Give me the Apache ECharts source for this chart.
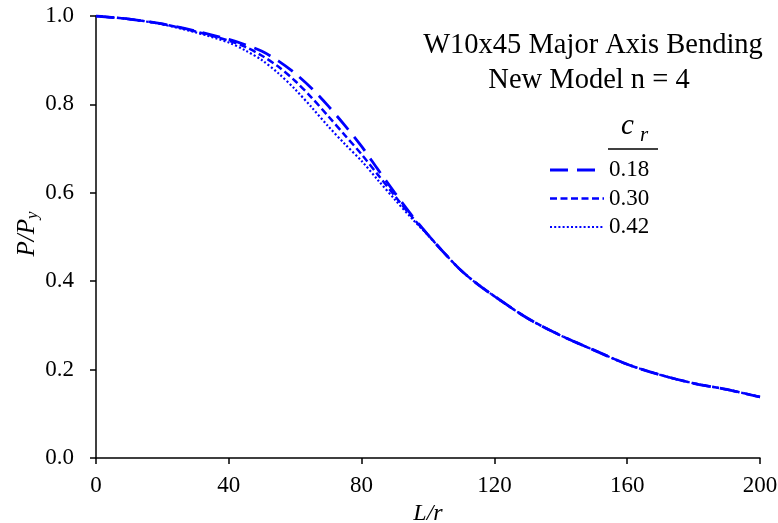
<!DOCTYPE html>
<html>
<head>
<meta charset="utf-8">
<style>
  html, body { margin: 0; padding: 0; background: #fff; }
  #chart { width: 778px; height: 523px; }
</style>
<script src="https://cdn.jsdelivr.net/npm/echarts@6/dist/echarts.min.js"></script>
</head>
<body>
<div id="chart"></div>
<script>
// Slenderness ratio L/r
const slenderness = [0, 10, 20, 30, 40, 45, 50, 55, 60, 65, 70, 75, 80, 85, 90, 95, 100,
  105, 110, 115, 120, 130, 140, 150, 160, 170, 180, 190, 200];

// P/Py for each residual stress ratio c_r
const cr018 = [1.000, 0.993, 0.982, 0.966, 0.947, 0.935, 0.920, 0.898, 0.870, 0.836, 0.796, 0.752, 0.705, 0.652, 0.600, 0.550, 0.505,
  0.463, 0.424, 0.393, 0.366, 0.316, 0.277, 0.244, 0.212, 0.188, 0.169, 0.155, 0.138];
const cr030 = [1.000, 0.993, 0.982, 0.965, 0.944, 0.930, 0.910, 0.885, 0.853, 0.815, 0.773, 0.730, 0.687, 0.640, 0.593, 0.547, 0.505,
  0.463, 0.424, 0.393, 0.366, 0.316, 0.277, 0.244, 0.212, 0.188, 0.169, 0.155, 0.138];
const cr042 = [1.000, 0.993, 0.981, 0.963, 0.940, 0.922, 0.900, 0.870, 0.834, 0.793, 0.750, 0.710, 0.672, 0.628, 0.585, 0.543, 0.504,
  0.463, 0.424, 0.393, 0.366, 0.316, 0.277, 0.244, 0.212, 0.188, 0.169, 0.155, 0.138];

const seriesNames = ['0.18', '0.30', '0.42'];
const xTicks = [0, 40, 80, 120, 160, 200];
const yTicks = [0, 0.2, 0.4, 0.6, 0.8, 1.0];
const titleLines = ['W10x45 Major Axis Bending', 'New Model n = 4'];

const SERIF = '"Liberation Serif", "DejaVu Serif", serif';
const BLUE = '#0000ff';

const pairs = vals => slenderness.map((x, i) => [x, vals[i]]);

// long dash, short dash, dots
const dashStyles = [
  { type: [18, 9], width: 2.8 },
  { type: [7, 3.5], width: 2.5 },
  { type: [2, 2.2], width: 2.2 }
];

// hand-built key: line sample + label, stacked under the c_r header
const legendX = 550, legendY0 = 170, legendStep = 28.5;
const legendItems = [];
seriesNames.forEach((name, i) => {
  const y = legendY0 + i * legendStep;
  legendItems.push({
    type: 'line',
    shape: { x1: legendX, y1: y, x2: legendX + 54, y2: y },
    style: { stroke: BLUE, lineWidth: dashStyles[i].width, lineDash: dashStyles[i].type, lineCap: 'butt' }
  });
  legendItems.push({
    type: 'text',
    x: legendX + 59, y: y,
    style: { text: name, font: '23px ' + SERIF, fill: '#000', verticalAlign: 'middle' }
  });
});

const chart = echarts.init(document.getElementById('chart'), null, { renderer: 'canvas' });

chart.setOption({
  animation: false,
  backgroundColor: '#fff',
  grid: { left: 96, right: 18, top: 16, bottom: 65, containLabel: false, outerBoundsMode: 'none' },
  xAxis: {
    type: 'value',
    min: xTicks[0], max: xTicks[xTicks.length - 1], interval: 40,
    name: 'L/r',
    nameLocation: 'middle',
    nameGap: 35,
    nameTextStyle: { fontFamily: SERIF, fontStyle: 'italic', fontSize: 24, color: '#000' },
    axisLine: { lineStyle: { color: '#000', width: 1.5 } },
    axisTick: { show: true, length: 6, lineStyle: { color: '#000', width: 1.5 } },
    axisLabel: { fontFamily: SERIF, fontSize: 23, color: '#000', margin: 16 },
    splitLine: { show: false }
  },
  yAxis: {
    type: 'value',
    min: yTicks[0], max: yTicks[yTicks.length - 1], interval: 0.2,
    axisLine: { show: true, lineStyle: { color: '#000', width: 1.5 } },
    axisTick: { show: true, length: 6, lineStyle: { color: '#000', width: 1.5 } },
    axisLabel: { fontFamily: SERIF, fontSize: 23, color: '#000', margin: 22,
      formatter: v => v.toFixed(1) },
    splitLine: { show: false }
  },
  graphic: [
    {
      // vertical axis title P/Py, reading bottom to top
      type: 'text',
      x: 27, y: 234,
      rotation: Math.PI / 2,
      style: {
        text: '{n|P/P}{s|y}',
        align: 'center',
        verticalAlign: 'middle',
        rich: {
          n: { fontFamily: SERIF, fontStyle: 'italic', fontSize: 25, fill: '#000' },
          s: { fontFamily: SERIF, fontStyle: 'italic', fontSize: 17, fill: '#000', padding: [12, 0, 0, 0] }
        }
      }
    },
    {
      type: 'text',
      x: 593, y: 31,
      style: { text: titleLines[0], font: '28.5px ' + SERIF, fill: '#000', align: 'center', verticalAlign: 'top' }
    },
    {
      type: 'text',
      x: 589, y: 66,
      style: { text: titleLines[1], font: '28.5px ' + SERIF, fill: '#000', align: 'center', verticalAlign: 'top' }
    },
    {
      type: 'text',
      x: 621, y: 141,
      style: { text: 'c', font: 'italic 29px ' + SERIF, fill: '#000', verticalAlign: 'bottom' }
    },
    {
      type: 'text',
      x: 640, y: 146,
      style: { text: 'r', font: 'italic 21px ' + SERIF, fill: '#000', verticalAlign: 'bottom' }
    },
    {
      type: 'line',
      shape: { x1: 608, y1: 149, x2: 658, y2: 149 },
      style: { stroke: '#000', lineWidth: 1.3 }
    }
  ].concat(legendItems),
  series: [cr018, cr030, cr042].map((vals, i) => ({
    name: seriesNames[i],
    type: 'line',
    data: pairs(vals),
    smooth: 0.3,
    showSymbol: false,
    symbol: 'none',
    color: BLUE,
    lineStyle: { color: BLUE, width: dashStyles[i].width, type: dashStyles[i].type, cap: 'butt' },
    z: 3 - i
  }))
});
</script>
</body>
</html>
